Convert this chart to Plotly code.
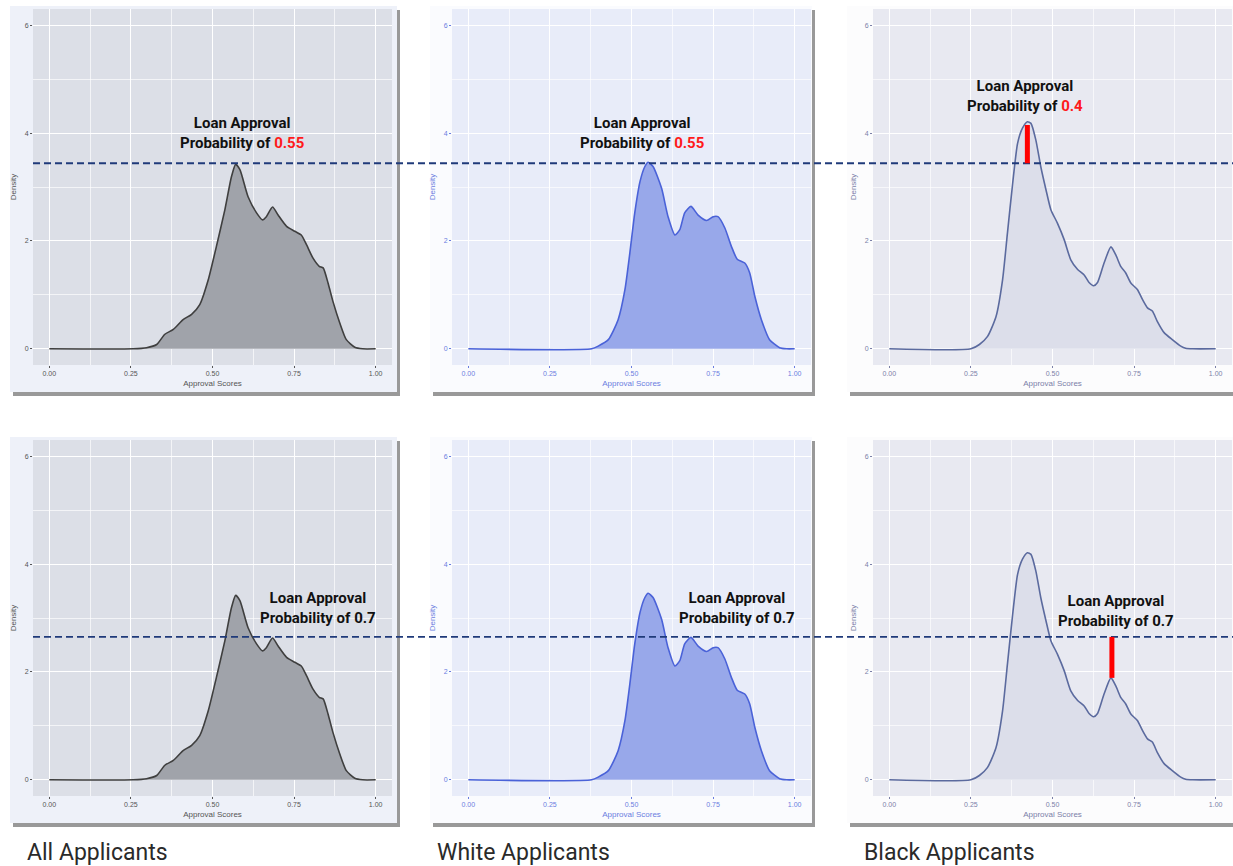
import plotly.graph_objects as go

W, H = 1233, 866

# ---------------- data ----------------
all_x = [0.0, 0.257, 0.298, 0.329, 0.354, 0.380, 0.410, 0.436, 0.461, 0.487, 0.512, 0.538, 0.558,
         0.571, 0.584, 0.609, 0.635, 0.653, 0.665, 0.684, 0.701, 0.727, 0.752, 0.772, 0.788, 0.808,
         0.827, 0.839, 0.854, 0.869, 0.890, 0.910, 0.936, 0.960, 1.0]
all_y = [0.0, 0.0, 0.02, 0.08, 0.27, 0.36, 0.54, 0.64, 0.82, 1.28, 1.90, 2.58, 3.19,
         3.42, 3.32, 2.82, 2.52, 2.39, 2.45, 2.63, 2.48, 2.27, 2.18, 2.11, 1.93, 1.68,
         1.53, 1.50, 1.22, 0.88, 0.48, 0.17, 0.03, 0.0, 0.0]

white_x = [0.0, 0.378, 0.398, 0.429, 0.459, 0.480, 0.495, 0.510, 0.526, 0.541, 0.551, 0.566, 0.592,
           0.612, 0.633, 0.648, 0.663, 0.682, 0.704, 0.730, 0.750, 0.765, 0.786, 0.806, 0.824,
           0.847, 0.862, 0.878, 0.898, 0.923, 0.954, 0.975, 1.0]
white_y = [0.0, 0.0, 0.05, 0.17, 0.54, 1.10, 1.78, 2.52, 3.10, 3.38, 3.46, 3.38, 2.98,
           2.45, 2.11, 2.21, 2.52, 2.64, 2.48, 2.38, 2.45, 2.45, 2.24, 1.90, 1.66,
           1.59, 1.41, 0.97, 0.54, 0.17, 0.02, 0.0, 0.0]

black_x = [0.0, 0.250, 0.276, 0.301, 0.327, 0.347, 0.362, 0.378, 0.393, 0.408, 0.423, 0.434, 0.449,
           0.464, 0.480, 0.495, 0.515, 0.536, 0.556, 0.577, 0.597, 0.612, 0.626, 0.638, 0.658,
           0.679, 0.694, 0.709, 0.724, 0.740, 0.760, 0.776, 0.791, 0.806, 0.821, 0.842, 0.867,
           0.893, 0.908, 0.930, 1.0]
black_y = [0.0, 0.0, 0.08, 0.23, 0.60, 1.28, 2.15, 3.07, 3.81, 4.09, 4.21, 4.18, 3.87,
           3.38, 2.95, 2.58, 2.33, 2.02, 1.65, 1.47, 1.37, 1.23, 1.17, 1.23, 1.59,
           1.89, 1.74, 1.53, 1.41, 1.22, 1.10, 0.91, 0.76, 0.70, 0.51, 0.30, 0.17,
           0.05, 0.01, 0.0, 0.0]

x_ticks = [0.0, 0.25, 0.5, 0.75, 1.0]
x_tick_labels = ["0.00", "0.25", "0.50", "0.75", "1.00"]
y_ticks = [0, 2, 4, 6]
y_tick_labels = ["0", "2", "4", "6"]

threshold_top = 3.44      # density level of the dashed line, top row
threshold_bottom = 2.65   # density level of the dashed line, bottom row
black_peak_x, black_peak_y = 0.423, 4.15
black_second_x, black_second_y = 0.682, 1.89

captions = ["All Applicants", "White Applicants", "Black Applicants"]
prob_top = ["0.55", "0.55", "0.4"]
prob_bottom = ["0.7", "0.7", "0.7"]

# ---------------- style ----------------
series = [
    dict(x=all_x, y=all_y, line="#3f3f3f", fill="#a0a3aa", tick="#555555",
         card="#eef1f9", panel="#dcdfe7"),
    dict(x=white_x, y=white_y, line="#4a62d8", fill="#98a8ea", tick="#6a7de0",
         card="#fafbfe", panel="#e8ecf9"),
    dict(x=black_x, y=black_y, line="#5b6a9e", fill="#dcdeea", tick="#7b80a8",
         card="#fcfcfd", panel="#e8e9f1"),
]

panel_x = [(33, 392), (452, 811), (873, 1232)]
panel_y = [(9, 365), (440, 796)]
card_x = [(10, 397), (430, 812), (847, 1236)]
card_y = [(6, 392), (437, 823)]


def px(v):
    return v / W


def py(v):
    return 1 - v / H


fig = go.Figure()
shapes = []
annotations = []

for r in range(2):
    for c in range(3):
        s = series[c]
        k = r * 3 + c + 1
        xa = "x" if k == 1 else f"x{k}"
        ya = "y" if k == 1 else f"y{k}"
        cx0, cx1 = card_x[c]
        cy0, cy1 = card_y[r]
        shapes.append(dict(type="rect", xref="paper", yref="paper", layer="below",
                           x0=px(cx0 + 3), x1=px(cx1 + 3), y0=py(cy0 + 4), y1=py(cy1 + 4),
                           fillcolor="rgba(70,70,70,0.55)", line=dict(width=0)))
        shapes.append(dict(type="rect", xref="paper", yref="paper", layer="below",
                           x0=px(cx0), x1=px(cx1), y0=py(cy0), y1=py(cy1),
                           fillcolor=s["card"], line=dict(width=0)))
        shapes.append(dict(type="rect", xref="paper", yref="paper", layer="below",
                           x0=px(panel_x[c][0]), x1=px(panel_x[c][1]),
                           y0=py(panel_y[r][0]), y1=py(panel_y[r][1]),
                           fillcolor=s["panel"], line=dict(width=0)))

        fig.add_trace(go.Scatter(
            x=s["x"], y=s["y"], mode="lines", xaxis=xa, yaxis=ya,
            line=dict(color=s["line"], width=1.6, shape="spline", smoothing=0.6),
            fill="tozeroy", fillcolor=s["fill"], showlegend=False, hoverinfo="skip"))

        axis_common = dict(showline=False, zeroline=False, ticks="outside", ticklen=2,
                           tickwidth=1, tickcolor=s["tick"],
                           tickfont=dict(size=7, color=s["tick"], family="Liberation Sans"),
                           gridcolor="#ffffff", gridwidth=1.1,
                           minor=dict(showgrid=True, gridcolor="rgba(255,255,255,0.65)",
                                      gridwidth=0.6, ticks=""))
        fig.layout[("xaxis" if k == 1 else f"xaxis{k}")] = dict(
            axis_common, domain=[px(panel_x[c][0]), px(panel_x[c][1])], anchor=ya,
            range=[-0.05, 1.05], tickvals=x_ticks, ticktext=x_tick_labels,
            minor_dtick=0.125, minor_tick0=0.125,
            title=dict(text="Approval Scores", standoff=3,
                       font=dict(size=8, color=s["tick"], family="Liberation Sans")))
        fig.layout[("yaxis" if k == 1 else f"yaxis{k}")] = dict(
            axis_common, domain=[py(panel_y[r][1]), py(panel_y[r][0])], anchor=xa,
            range=[-0.3, 6.3], tickvals=y_ticks, ticktext=y_tick_labels,
            minor_dtick=1, minor_tick0=1,
            title=dict(text="Density", standoff=6,
                       font=dict(size=8, color=s["tick"], family="Liberation Sans")))

# dashed threshold lines across the whole figure
shapes.append(dict(type="line", xref="paper", yref="y", x0=px(33), x1=1,
                   y0=threshold_top, y1=threshold_top,
                   line=dict(color="#1f3a7a", width=1.8, dash="7px,4px")))
shapes.append(dict(type="line", xref="paper", yref="y4", x0=px(33), x1=1,
                   y0=threshold_bottom, y1=threshold_bottom,
                   line=dict(color="#1f3a7a", width=1.8, dash="7px,4px")))
# red gaps (black applicants)
shapes.append(dict(type="line", xref="x3", yref="y3", x0=black_peak_x, x1=black_peak_x,
                   y0=threshold_top, y1=black_peak_y, line=dict(color="#ff0000", width=5)))
shapes.append(dict(type="line", xref="x6", yref="y6", x0=black_second_x, x1=black_second_x,
                   y0=threshold_bottom, y1=black_second_y, line=dict(color="#ff0000", width=5)))

# annotation labels
ann_font = dict(size=15, color="#111111", family="Roboto")
top_pos = [(0.589, 4.0), (0.532, 4.0), (0.416, 4.69)]
bot_pos = [(0.822, 3.18), (0.823, 3.18), (0.694, 3.13)]
for c in range(3):
    k = c + 1
    annotations.append(dict(
        xref="x" if k == 1 else f"x{k}", yref="y" if k == 1 else f"y{k}",
        x=top_pos[c][0], y=top_pos[c][1], showarrow=False, align="center",
        text=f"<b>Loan Approval<br>Probability of <span style='color:#ff1a1a'>{prob_top[c]}</span></b>",
        font=ann_font))
    k = c + 4
    annotations.append(dict(
        xref=f"x{k}", yref=f"y{k}",
        x=bot_pos[c][0], y=bot_pos[c][1], showarrow=False, align="center",
        text=f"<b>Loan Approval<br>Probability of {prob_bottom[c]}</b>",
        font=ann_font))

# captions
cap_x = [25, 435, 862]
for c in range(3):
    annotations.append(dict(
        xref="paper", yref="paper", x=px(cap_x[c]), y=py(852), xanchor="left", yanchor="middle",
        showarrow=False, text=captions[c],
        font=dict(size=23, color="#2a2a2a", family="Roboto")))

fig.update_layout(
    width=W, height=H, autosize=False,
    margin=dict(l=0, r=0, t=0, b=0),
    paper_bgcolor="#ffffff", plot_bgcolor="rgba(0,0,0,0)",
    shapes=shapes, annotations=annotations, showlegend=False,
)

fig.write_html("out.html", config={"displayModeBar": False},
               post_script="document.body.style.margin='0';document.body.style.overflow='hidden';")
